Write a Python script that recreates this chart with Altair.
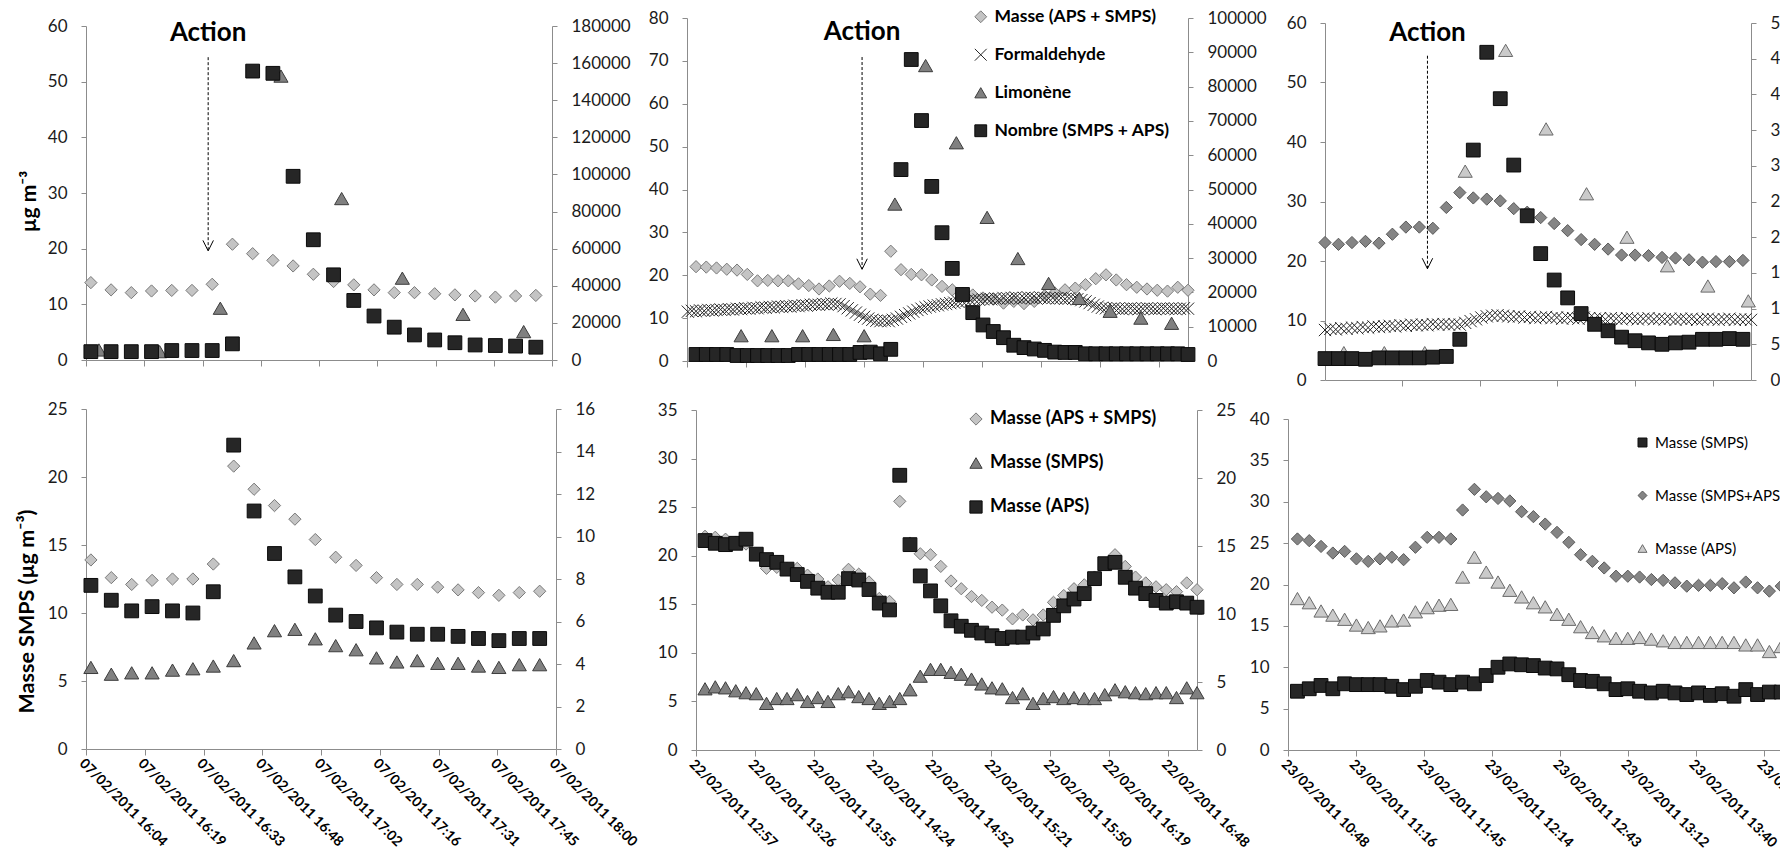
import json

import altair as alt
import pandas as pd

W, H = 1780, 852
FONT = "Lato"
INK = "#1b1b1b"
AXIS_LINE = "#8c8c8c"

# ---------------------------------------------------------------- 07/02/2011
D1_START = "16:06"            # 5-min sampling
D1_MASSE = [13.9, 12.6, 12.1, 12.4, 12.5, 12.5, 13.6, 20.8, 19.1, 17.9, 16.9, 15.4,
            14.1, 13.5, 12.6, 12.1, 12.1, 11.9, 11.7, 11.5, 11.3, 11.5, 11.6]
D1_NOMBRE = [4500, 4500, 4500, 4500, 5100, 5100, 5100, 8700, 155700, 154500, 99000,
             64800, 45900, 32100, 23700, 17700, 13500, 10800, 9300, 8100, 7800, 7500, 6900]
D1_SMPS = [6.0, 5.5, 5.6, 5.6, 5.8, 5.9, 6.1, 6.5, 7.8, 8.7, 8.8, 8.1, 7.6, 7.3, 6.7,
           6.4, 6.5, 6.3, 6.3, 6.1, 6.0, 6.2, 6.2]
D1_APS = [7.7, 7.0, 6.5, 6.7, 6.5, 6.4, 7.4, 14.3, 11.2, 9.2, 8.1, 7.2, 6.3, 6.0, 5.7,
          5.5, 5.4, 5.4, 5.3, 5.2, 5.1, 5.2, 5.2]
D1_LIMONENE_START = "16:08"   # 15-min sampling
D1_LIMONENE = [1.8, 1.5, 9.3, 51.0, 29.0, 14.7, 8.2, 5.1]
D1_TICK_POS = [964.8, 979.2, 993.6, 1008.0, 1022.4, 1036.8, 1051.2, 1065.6, 1080.0]
D1_TICK_LABELS = ["07/02/2011 16:04", "07/02/2011 16:19", "07/02/2011 16:33",
                  "07/02/2011 16:48", "07/02/2011 17:02", "07/02/2011 17:16",
                  "07/02/2011 17:31", "07/02/2011 17:45", "07/02/2011 18:00"]

# ---------------------------------------------------------------- 22/02/2011
D2_START = "13:02"
D2_MASSE = [22.0, 21.9, 21.7, 21.4, 21.2, 20.2, 18.7, 18.8, 18.7, 18.7, 18.0, 17.6,
            16.8, 17.5, 18.6, 18.1, 17.3, 15.6, 15.3, 25.6, 21.3, 20.2, 20.1, 18.9,
            17.4, 16.6, 15.8, 15.4, 14.7, 14.4, 13.5, 13.9, 13.4, 13.9, 15.2, 15.9,
            16.6, 17.0, 17.8, 19.2, 20.1, 18.9, 17.8, 17.2, 16.8, 16.5, 16.3, 17.2, 16.5]
D2_APS = [15.4, 15.2, 15.1, 15.2, 15.5, 14.4, 14.0, 13.8, 13.3, 12.9, 12.4, 11.9, 11.6,
          11.6, 12.6, 12.5, 11.8, 10.8, 10.3, 20.2, 15.1, 12.8, 11.7, 10.6, 9.5, 9.1,
          8.8, 8.6, 8.4, 8.2, 8.3, 8.3, 8.6, 8.9, 9.9, 10.6, 11.1, 11.5, 12.6, 13.7,
          13.8, 12.7, 11.9, 11.5, 11.0, 10.8, 10.9, 10.8, 10.5]
D2_SMPS = [6.3, 6.5, 6.4, 6.1, 5.9, 5.8, 4.8, 5.3, 5.3, 5.7, 5.0, 5.4, 5.0, 5.8, 6.0,
           5.5, 5.3, 4.8, 5.0, 5.3, 6.2, 7.6, 8.3, 8.3, 8.0, 7.8, 7.3, 6.8, 6.4, 6.3,
           5.4, 5.8, 4.8, 5.3, 5.5, 5.3, 5.4, 5.3, 5.3, 5.7, 6.2, 6.0, 5.9, 5.8, 5.9,
           5.9, 5.4, 6.4, 5.9]
D2_NOMBRE = [1900, 1900, 1900, 1900, 1600, 1600, 1600, 1600, 1600, 1600, 1900, 1900,
             1900, 1900, 1900, 1900, 2500, 2600, 2100, 3400, 55800, 87900, 70100, 50900,
             37400, 27000, 19400, 14100, 10500, 8600, 6800, 4600, 3900, 3500, 3100, 2600,
             2500, 2500, 2100, 2100, 2100, 2100, 2100, 2100, 2100, 2100, 2100, 2100, 1900]
D2_LIMONENE_START = "13:24"
D2_LIMONENE = [5.9, 5.9, 5.9, 6.2, 5.9, 36.6, 68.9, 50.9, 33.5, 23.9, 18.1, 14.6, 11.6,
               10.0, 8.8]
D2_FORMALDEHYDE_START = "12:58"   # 2-min sampling
D2_FORMALDEHYDE = [
    11.5, 11.7, 11.6, 11.8, 11.7, 11.9, 11.8, 11.9, 12.0, 11.9, 12.1, 12.0,
    12.2, 12.1, 12.3, 12.2, 12.4, 12.3, 12.5, 12.4, 12.6, 12.5, 12.7, 12.6, 12.8, 12.7,
    12.9, 12.8, 13.0, 12.9, 13.1,
    13.2, 13.1, 13.3, 13.2, 13.4, 13.3, 13.2,
    12.8, 12.3, 11.8, 11.3, 10.8, 10.3, 9.9, 9.6, 9.4,
    9.3, 9.4, 9.3, 9.6, 9.9,
    10.3, 10.7, 11.1, 11.5, 11.9, 12.2, 12.5, 12.7, 12.9,
    13.0, 13.2, 13.3, 13.5, 13.6, 13.8, 13.9, 14.0, 14.1, 14.3, 14.3,
    14.4, 14.5, 14.4, 14.6, 14.5, 14.7, 14.6, 14.7, 14.8, 14.6, 14.7, 14.8, 14.7, 14.6,
    14.8, 14.7, 14.6, 14.7, 14.6, 14.7, 14.5, 14.6, 14.5, 14.4,
    14.2, 13.9, 13.5, 13.1, 12.7, 12.4, 12.3,
    12.2, 12.3, 12.2, 12.1, 12.2, 12.3, 12.2, 12.1, 12.2, 12.3, 12.2, 12.1, 12.2, 12.3,
    12.2, 12.2, 12.1, 12.2, 12.3, 12.2]
D2_TICK_POS = [777.6, 806.4, 835.2, 864.0, 892.8, 921.6, 950.4, 979.2, 1008.0]
D2_TICK_LABELS = ["22/02/2011 12:57", "22/02/2011 13:26", "22/02/2011 13:55",
                  "22/02/2011 14:24", "22/02/2011 14:52", "22/02/2011 15:21",
                  "22/02/2011 15:50", "22/02/2011 16:19", "22/02/2011 16:48"]

# ---------------------------------------------------------------- 23/02/2011
D3_START = "10:52"
D3_MASSE = [25.5, 25.3, 24.6, 23.8, 24.0, 23.1, 22.8, 23.1, 23.3, 23.0, 24.5, 25.7,
            25.7, 25.5, 29.0, 31.5, 30.6, 30.4, 30.1, 28.8, 28.2, 27.3, 26.3, 25.1,
            23.6, 22.8, 22.0, 21.0, 21.0, 20.9, 20.6, 20.5, 20.2, 19.8, 19.9, 19.9,
            20.1, 19.6, 20.3, 19.6, 19.2, 19.8]
D3_APS = [18.3, 17.8, 16.8, 16.3, 15.8, 15.1, 14.8, 15.0, 15.6, 15.7, 16.7, 17.2, 17.5,
          17.6, 20.9, 23.3, 21.5, 20.3, 19.3, 18.5, 17.8, 17.3, 16.4, 15.8, 14.9, 14.2,
          13.8, 13.5, 13.5, 13.6, 13.4, 13.2, 13.0, 13.0, 13.0, 13.0, 13.0, 13.0, 12.7,
          12.7, 11.9, 12.5]
D3_SMPS = [7.1, 7.4, 7.8, 7.4, 8.0, 7.9, 7.9, 7.9, 7.7, 7.3, 7.7, 8.4, 8.2, 7.9, 8.2,
           8.0, 9.0, 10.0, 10.4, 10.3, 10.2, 9.9, 9.8, 9.1, 8.4, 8.3, 8.0, 7.3, 7.4, 7.1,
           6.9, 7.1, 6.9, 6.7, 6.9, 6.6, 6.8, 6.5, 7.3, 6.7, 7.0, 7.0]
D3_NOMBRE_START = "11:17"
D3_NOMBRE = [3000, 3000, 3000, 2900, 3100, 3100, 3100, 3100, 3200, 3300, 5700, 32200,
             45900, 39400, 30100, 23000, 17700, 14000, 11500, 9300, 7800, 6900, 6000,
             5500, 5200, 5000, 5200, 5300, 5700, 5700, 5800, 5700]
D3_LIMONENE_START = "11:24"
D3_LIMONENE = [4.6, 4.6, 4.6, 35.1, 55.4, 42.2, 31.3, 24.0, 19.2, 15.8, 13.3]
D3_FORMALDEHYDE_START = "11:17"
D3_FORMALDEHYDE = [
    8.4, 8.6, 8.5, 8.7, 8.6, 8.8, 8.7, 8.9, 8.8, 9.0, 8.9,
    9.0, 9.1, 9.0, 9.2, 9.1, 9.3, 9.2, 9.3, 9.2, 9.4, 9.3, 9.4, 9.3, 9.4, 9.3,
    9.6, 9.9, 10.2, 10.5, 10.7, 10.8, 10.9, 10.8,
    10.7, 10.6, 10.7, 10.5, 10.6, 10.4, 10.5, 10.6, 10.4, 10.5, 10.3, 10.5, 10.4, 10.3,
    10.5, 10.4, 10.3, 10.4, 10.2, 10.4, 10.3, 10.2, 10.4, 10.3, 10.2, 10.3, 10.4, 10.2,
    10.3, 10.2, 10.3, 10.1, 10.3, 10.2, 10.3, 10.1, 10.2, 10.3, 10.2, 10.1, 10.2, 10.3,
    10.1, 10.2, 10.2, 10.1]
D3_TICK_POS = [648.0, 676.8, 705.6, 734.4, 763.2, 792.0, 820.8, 849.6]
D3_TICK_LABELS = ["23/02/2011 10:48", "23/02/2011 11:16", "23/02/2011 11:45",
                  "23/02/2011 12:14", "23/02/2011 12:43", "23/02/2011 13:12",
                  "23/02/2011 13:40", "23/02/2011 14:09"]

# "Action" markers: time, text level, arrow top, arrow tip (left-axis units)
ACTIONS = {
    "d1": ["16:35", 58.7, 54.4, 19.6],
    "d2": ["14:23", 76.7, 70.9, 21.4],
    "d3": ["11:55", 58.3, 54.5, 18.7],
}

# ---------------------------------------------------------------- marker styles
# (shape, fill, stroke, size)
LIGHT_DIAMOND = ("diamond", "#c4c4c4", "#7a7a7a", 150)
DARK_DIAMOND = ("diamond", "#858585", "#595959", 150)
BLACK_SQUARE = ("square", "#262626", "#0a0a0a", 190)
DARK_TRIANGLE = ("triangle-up", "#808080", "#3c3c3c", 200)
LIGHT_TRIANGLE = ("triangle-up", "#cacaca", "#6a6a6a", 200)
CROSS = ("M-1,-1L1,1M-1,1L1,-1", "transparent", "#262626", 150)


def minutes(hhmm):
    h, m = hhmm.split(":")
    return int(h) * 60 + int(m)


def series(start, step, values, name):
    t0 = minutes(start)
    return pd.DataFrame({"t": [t0 + step * i for i in range(len(values))],
                         "v": values, "s": [name] * len(values)})


def x_axis(y_px, ticks, labels):
    kw = dict(orient="bottom", offset=y_px - H, values=ticks, title=None, tickSize=6)
    if labels:
        kw.update(labelExpr=f"{json.dumps(labels)}[indexof({json.dumps(ticks)}, datum.value)]",
                  labelAngle=45, labelAlign="left", labelBaseline="top",
                  labelFontWeight="bold", labelFontSize=14, labelPadding=1,
                  labelColor="#000", labelLimit=300)
    else:
        kw.update(labels=False)
    return alt.Axis(**kw)


def y_axis(side, x_px, values, title=None, title_padding=10, title_size=18, title_y=None):
    offset = -x_px if side == "left" else x_px - W
    kw = dict(orient=side, offset=offset, values=values, tickSize=5, format="d",
              labelPadding=14, title=title)
    if title:
        kw.update(titleFontSize=title_size, titleFontWeight="bold",
                  titlePadding=title_padding)
        if title_y is not None:
            kw["titleY"] = title_y
    return alt.Axis(**kw)


def panel(x_domain, x_range, x_axis_y, ticks, tick_labels, styles, left, right=None,
          legend=None, action=None):
    """One framed plot: left-axis series, optional right-axis series, optional legend."""
    xenc = alt.X("t:Q", scale=alt.Scale(domain=x_domain, range=x_range, nice=False,
                                        zero=False),
                 axis=x_axis(x_axis_y, ticks, tick_labels))
    names = [n for n, _ in styles]
    style_of = dict(styles)
    shape_scale = alt.Scale(domain=names, range=[s[0] for _, s in styles])
    fill_scale = alt.Scale(domain=names, range=[s[1] for _, s in styles])
    stroke_scale = alt.Scale(domain=names, range=[s[2] for _, s in styles])

    def marks(df, yenc):
        name = df["s"].iloc[0]
        return alt.Chart(df).mark_point(filled=True, opacity=1, strokeWidth=1,
                                        size=style_of[name][3]).encode(
            x=xenc, y=yenc,
            shape=alt.Shape("s:N", scale=shape_scale, legend=legend),
            fill=alt.Fill("s:N", scale=fill_scale, legend=legend),
            stroke=alt.Stroke("s:N", scale=stroke_scale, legend=legend),
        )

    def y_enc(side, spec):
        return alt.Y("v:Q",
                     scale=alt.Scale(domain=spec["domain"], range=spec["range"], nice=False),
                     axis=y_axis(side, spec["x"], spec["values"], spec.get("title"),
                                 spec.get("title_padding", 10), spec.get("title_size", 18),
                                 spec.get("title_y")))

    yl = y_enc("left", left)
    left_layers = [marks(df, yl) for df in left["frames"]]
    if action is not None:
        t, v_text, v_top, v_tip = action
        tm = minutes(t)
        text_df = pd.DataFrame({"t": [tm], "v": [v_text], "label": ["Action"]})
        rule_df = pd.DataFrame({"t": [tm], "v": [v_top], "v2": [v_tip]})
        head_df = pd.DataFrame({"t": [tm], "v": [v_tip]})
        left_layers += [
            alt.Chart(text_df).mark_text(font=FONT, fontSize=26, fontWeight="bold",
                                         color="#000").encode(x=xenc, y=yl, text="label:N"),
            alt.Chart(rule_df).mark_rule(strokeDash=[3, 2], strokeWidth=1,
                                         color="#000").encode(x=xenc, y=yl, y2="v2:Q"),
            alt.Chart(head_df).mark_point(shape="M-1,-2L0,0L1,-2", size=110, filled=False,
                                          opacity=1, color="#000",
                                          strokeWidth=1).encode(x=xenc, y=yl),
        ]
    left_chart = alt.layer(*left_layers)
    if right is None:
        return left_chart
    yr = y_enc("right", right)
    right_chart = alt.layer(*[marks(df, yr) for df in right["frames"]])
    return alt.layer(left_chart, right_chart).resolve_scale(y="independent")


def legend_box(x, y, size, bold, row_padding, symbol_size):
    return alt.Legend(orient="none", legendX=x, legendY=y, title=None, direction="vertical",
                      labelFontSize=size, labelFontWeight="bold" if bold else "normal",
                      rowPadding=row_padding, symbolSize=symbol_size, labelOffset=5,
                      padding=0, labelLimit=400, symbolStrokeWidth=1, labelColor="#000")


# ---------------------------------------------------------------- panels
MASSE_AS = "Masse (APS + SMPS)"
FORMOL = "Formaldehyde"
LIMO = "Limonène"
NOMBRE = "Nombre (SMPS + APS)"

top_left = panel(
    [964.8, 1080.0], [86, 552], 360, D1_TICK_POS, None,
    [(MASSE_AS, LIGHT_DIAMOND), (LIMO, DARK_TRIANGLE), (NOMBRE, BLACK_SQUARE)],
    left=dict(domain=[0, 60], range=[360, 26], x=86, values=list(range(0, 61, 10)),
              title="µg m⁻³", title_padding=8, title_size=21, title_y=201,
              frames=[series(D1_START, 5, D1_MASSE, MASSE_AS),
                      series(D1_LIMONENE_START, 15, D1_LIMONENE, LIMO)]),
    right=dict(domain=[0, 180000], range=[360, 26], x=552,
               values=list(range(0, 180001, 20000)),
               frames=[series(D1_START, 5, D1_NOMBRE, NOMBRE)]),
    action=ACTIONS["d1"],
)

top_middle = panel(
    [777.6, 1022.0], [687, 1188], 361, D2_TICK_POS, None,
    [(MASSE_AS, LIGHT_DIAMOND), (FORMOL, CROSS), (LIMO, DARK_TRIANGLE), (NOMBRE, BLACK_SQUARE)],
    left=dict(domain=[0, 80], range=[361, 18], x=687, values=list(range(0, 81, 10)),
              frames=[series(D2_START, 5, D2_MASSE, MASSE_AS),
                      series(D2_FORMALDEHYDE_START, 2, D2_FORMALDEHYDE, FORMOL),
                      series(D2_LIMONENE_START, 15, D2_LIMONENE, LIMO)]),
    right=dict(domain=[0, 100000], range=[361, 18], x=1188,
               values=list(range(0, 100001, 10000)),
               frames=[series(D2_START, 5, D2_NOMBRE, NOMBRE)]),
    legend=legend_box(972, 8, 17.5, True, 19, 140),
    action=ACTIONS["d2"],
)

d3_masse = series(D3_START, 5, D3_MASSE, MASSE_AS)
top_right = panel(
    [677.0, 835.0], [1325, 1751], 380, [705.6, 734.4, 763.2, 792.0, 820.8], None,
    [(MASSE_AS, DARK_DIAMOND), (FORMOL, CROSS), (LIMO, LIGHT_TRIANGLE), (NOMBRE, BLACK_SQUARE)],
    left=dict(domain=[0, 60], range=[380, 23], x=1325, values=list(range(0, 61, 10)),
              frames=[d3_masse[(d3_masse.t >= 677) & (d3_masse.t <= 835)],
                      series(D3_FORMALDEHYDE_START, 2, D3_FORMALDEHYDE, FORMOL),
                      series(D3_LIMONENE_START, 15, D3_LIMONENE, LIMO)]),
    right=dict(domain=[0, 50000], range=[380, 23], x=1751,
               values=list(range(0, 50001, 5000)),
               frames=[series(D3_NOMBRE_START, 5, D3_NOMBRE, NOMBRE)]),
    action=ACTIONS["d3"],
)

M_AS = "Masse (APS + SMPS)"
M_S = "Masse (SMPS)"
M_A = "Masse (APS)"

bottom_left = panel(
    [964.8, 1080.0], [86, 556], 749, D1_TICK_POS, D1_TICK_LABELS,
    [(M_AS, LIGHT_DIAMOND), (M_S, DARK_TRIANGLE), (M_A, BLACK_SQUARE)],
    left=dict(domain=[0, 25], range=[749, 409], x=86, values=list(range(0, 26, 5)),
              title="Masse SMPS (µg m⁻³)", title_padding=9, title_size=21.5, title_y=611,
              frames=[series(D1_START, 5, D1_MASSE, M_AS),
                      series(D1_START, 5, D1_SMPS, M_S)]),
    right=dict(domain=[0, 16], range=[749, 409], x=556, values=list(range(0, 17, 2)),
               frames=[series(D1_START, 5, D1_APS, M_A)]),
)

bottom_middle = panel(
    [777.6, 1022.0], [696, 1197], 750, D2_TICK_POS, D2_TICK_LABELS,
    [(M_AS, LIGHT_DIAMOND), (M_S, DARK_TRIANGLE), (M_A, BLACK_SQUARE)],
    left=dict(domain=[0, 35], range=[750, 410], x=696, values=list(range(0, 36, 5)),
              frames=[series(D2_START, 5, D2_MASSE, M_AS),
                      series(D2_START, 5, D2_SMPS, M_S)]),
    right=dict(domain=[0, 25], range=[750, 410], x=1197, values=list(range(0, 26, 5)),
               frames=[series(D2_START, 5, D2_APS, M_A)]),
    legend=legend_box(967, 410, 18, True, 26, 150),
)

BR_S = "Masse (SMPS)"
BR_SA = "Masse (SMPS+APS)"
BR_A = "Masse (APS)"
bottom_right = panel(
    [648.0, 868.8], [1288, 1809], 750, D3_TICK_POS, D3_TICK_LABELS,
    [(BR_S, BLACK_SQUARE), (BR_SA, DARK_DIAMOND), (BR_A, LIGHT_TRIANGLE)],
    left=dict(domain=[0, 40], range=[750, 419], x=1288, values=list(range(0, 41, 5)),
              frames=[series(D3_START, 5, D3_SMPS, BR_S),
                      series(D3_START, 5, D3_MASSE, BR_SA),
                      series(D3_START, 5, D3_APS, BR_A)]),
    legend=legend_box(1635, 435, 15, False, 37, 80),
)

chart = (
    alt.layer(top_left, top_middle, top_right, bottom_left, bottom_middle, bottom_right)
    .resolve_scale(x="independent", y="independent", shape="independent",
                   fill="independent", stroke="independent")
    .resolve_legend(shape="independent", fill="independent", stroke="independent")
    .properties(width=W, height=H, padding=0, autosize=alt.AutoSizeParams(type="none"),
                background="white")
    .configure_view(strokeWidth=0)
    .configure_axis(labelFont=FONT, labelFontSize=17, labelColor=INK, titleFont=FONT,
                    titleColor="#000", domainColor=AXIS_LINE, tickColor=AXIS_LINE,
                    domainWidth=1, tickWidth=1, grid=False, labelOverlap=False,
                    labelFlush=False)
    .configure_legend(labelFont=FONT)
)

chart.save("out.html", embed_options={"renderer": "svg", "actions": False})
